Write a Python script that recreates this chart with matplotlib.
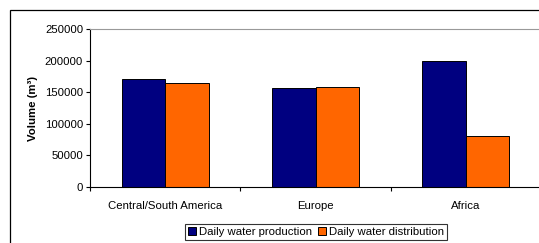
import matplotlib
matplotlib.use("Agg")
import matplotlib.pyplot as plt
from matplotlib.patches import Rectangle
import numpy as np

categories = ["Central/South America", "Europe", "Africa"]
production = [171000, 157000, 199000]
distribution = [164000, 158000, 80000]
series_names = ["Daily water production", "Daily water distribution"]
yticks = [0, 50000, 100000, 150000, 200000, 250000]

plt.rcParams['font.family'] = ['Liberation Sans', 'DejaVu Sans']

W, H = 539, 243
fig = plt.figure(figsize=(W/100, H/100), dpi=100)
fig.patch.set_facecolor('white')

# outer chart border
fig.add_artist(Rectangle((10/W, -0.1), 1.2, 1 - 10/H + 0.1, transform=fig.transFigure,
                         fill=False, edgecolor='black', linewidth=0.9))

ax = fig.add_axes([90/W, 1 - 187/H, (541-90)/W, (187-29)/H])
x = np.arange(len(categories))
bw = 0.29
ax.bar(x - bw/2, production, bw, color='#000080', edgecolor='black', linewidth=0.7,
       label=series_names[0])
ax.bar(x + bw/2, distribution, bw, color='#FF6600', edgecolor='black', linewidth=0.7,
       label=series_names[1])

fs = 8.2
ax.set_xlim(-0.5, len(categories) - 0.5)
ax.set_ylim(0, 250000)
ax.set_yticks(yticks)
ax.set_yticklabels([str(v) for v in yticks], fontsize=fs)
ax.set_xticks(x)
ax.set_xticklabels(categories, fontsize=fs)
ax.tick_params(axis='x', which='major', length=0, pad=10)
ax.set_xticks(np.arange(-0.5, len(categories), 1.0), minor=True)
ax.tick_params(axis='x', which='minor', length=3, width=0.8, direction='out')
ax.tick_params(axis='y', length=3, width=0.8, direction='out', pad=2)

ax.spines['left'].set_color('black')
ax.spines['bottom'].set_color('black')
ax.spines['top'].set_color('#999999')
ax.spines['right'].set_color('#999999')
ax.set_ylabel("Volume (m³)", fontsize=fs, fontweight='bold', labelpad=5)

leg = fig.legend(loc='upper left', bbox_to_anchor=(185/W, 1 - 224/H), fontsize=fs,
                 ncol=2, frameon=True, fancybox=False, edgecolor='black',
                 handlelength=0.7, handleheight=0.7, handletextpad=0.3,
                 columnspacing=0.5, borderpad=0.25, borderaxespad=0)
leg.get_frame().set_linewidth(0.8)

fig.savefig("out.png", dpi=100)
